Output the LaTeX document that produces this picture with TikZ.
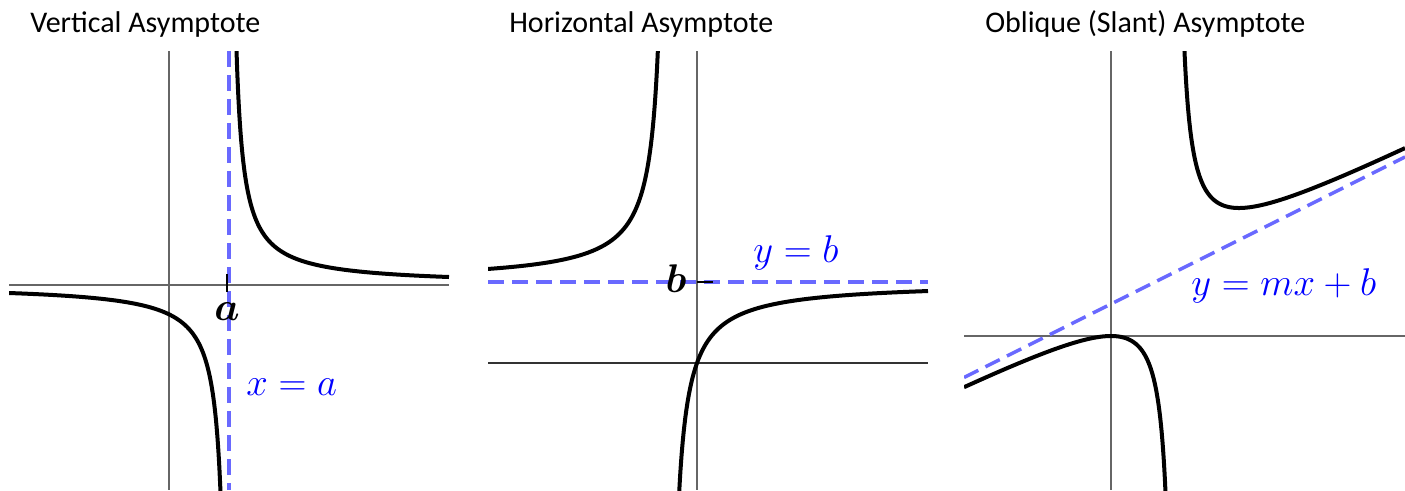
\RequirePackage{fix-cm}
\documentclass[tikz,border=0pt]{standalone}
\usepackage{bm}
\usepackage{fontspec}
\setmainfont{Carlito}
\definecolor{asymblue}{RGB}{105,105,255}
\definecolor{lblblue}{RGB}{0,0,255}
\tikzset{
    axis/.style={draw=black!60,line width=1.5pt},
    curve/.style={draw=black,line width=3pt,smooth},
    asym/.style={draw=asymblue,line width=2.6pt,dash pattern=on 12pt off 6pt},
    tick/.style={draw=black,line width=1.5pt},
    title/.style={anchor=base west,inner sep=0pt,font=\fontsize{22.5}{24}\selectfont},
    lbl/.style={anchor=base west,inner sep=0pt,text=lblblue,font=\fontsize{29}{31}\selectfont},
    pt/.style={anchor=base,inner sep=0pt,font=\fontsize{30}{32}\selectfont}
}
\begin{document}
\begin{tikzpicture}[x=0.75pt,y=-0.75pt]
\useasboundingbox (0,0) rectangle (1405,490);
\node[title] (vtitle) at (30,32) {Vertical Asymptote};
\node[title] (htitle) at (509,32) {Horizontal Asymptote};
\node[title] (otitle) at (985,32) {Oblique (Slant) Asymptote};

\begin{scope}
    \clip (9,51) rectangle (449,490);
    \draw[axis] (9,285) -- (449,285);
    \draw[axis] (169,51) -- (169,490);
    \coordinate (va1) at (229,51);
    \coordinate (va2) at (229,490);
    \draw[asym] (va1) -- (va2);
    \draw[curve] plot[domain=236:449,samples=200] (\x,{285-1760/(\x-229)});
    \draw[curve] plot[domain=9:220.5,samples=200] (\x,{285-1760/(\x-229)});
\end{scope}
\draw[tick] (227,274) -- (227,292);
\node[pt] (a) at (227,320) {$\bm{a}$};
\node[lbl] (xa) at (246,395) {$x=a$};

\begin{scope}
    \clip (488,51) rectangle (928,490);
    \draw[axis,draw=black!80,line width=1.2pt] (488,363) -- (928,363);
    \draw[axis] (697,51) -- (697,490);
    \coordinate (ha1) at (488,282);
    \coordinate (ha2) at (928,282);
    \draw[asym] (ha1) -- (ha2);
    \draw[curve] plot[domain=488:658,samples=200] (\x,{282+2349/(\x-668)});
    \draw[curve] plot[domain=679:928,samples=200] (\x,{282+2349/(\x-668)});
\end{scope}
\draw[tick] (697,282) -- (713,282);
\node[pt] (b) at (676,292) {$\bm{b}$};
\node[lbl] (yb) at (753,262) {$y=b$};

\begin{scope}
    \clip (964,51) rectangle (1405,490);
    \draw[axis] (964,336) -- (1405,336);
    \draw[axis] (1111,51) -- (1111,490);
    \coordinate (oa1) at (964,377.5);
    \coordinate (oa2) at (1405,157);
    \draw[asym] (oa1) -- (oa2);
    \draw[curve] plot[domain=1183:1405,samples=200] (\x,{336-(0.5*(\x-1111)+32+2048/(\x-1175))});
    \draw[curve] plot[domain=964:1166,samples=200] (\x,{336-(0.5*(\x-1111)+32+2048/(\x-1175))});
\end{scope}
\node[lbl] (ymxb) at (1191,295) {$y=mx+b$};
\end{tikzpicture}
\end{document}
